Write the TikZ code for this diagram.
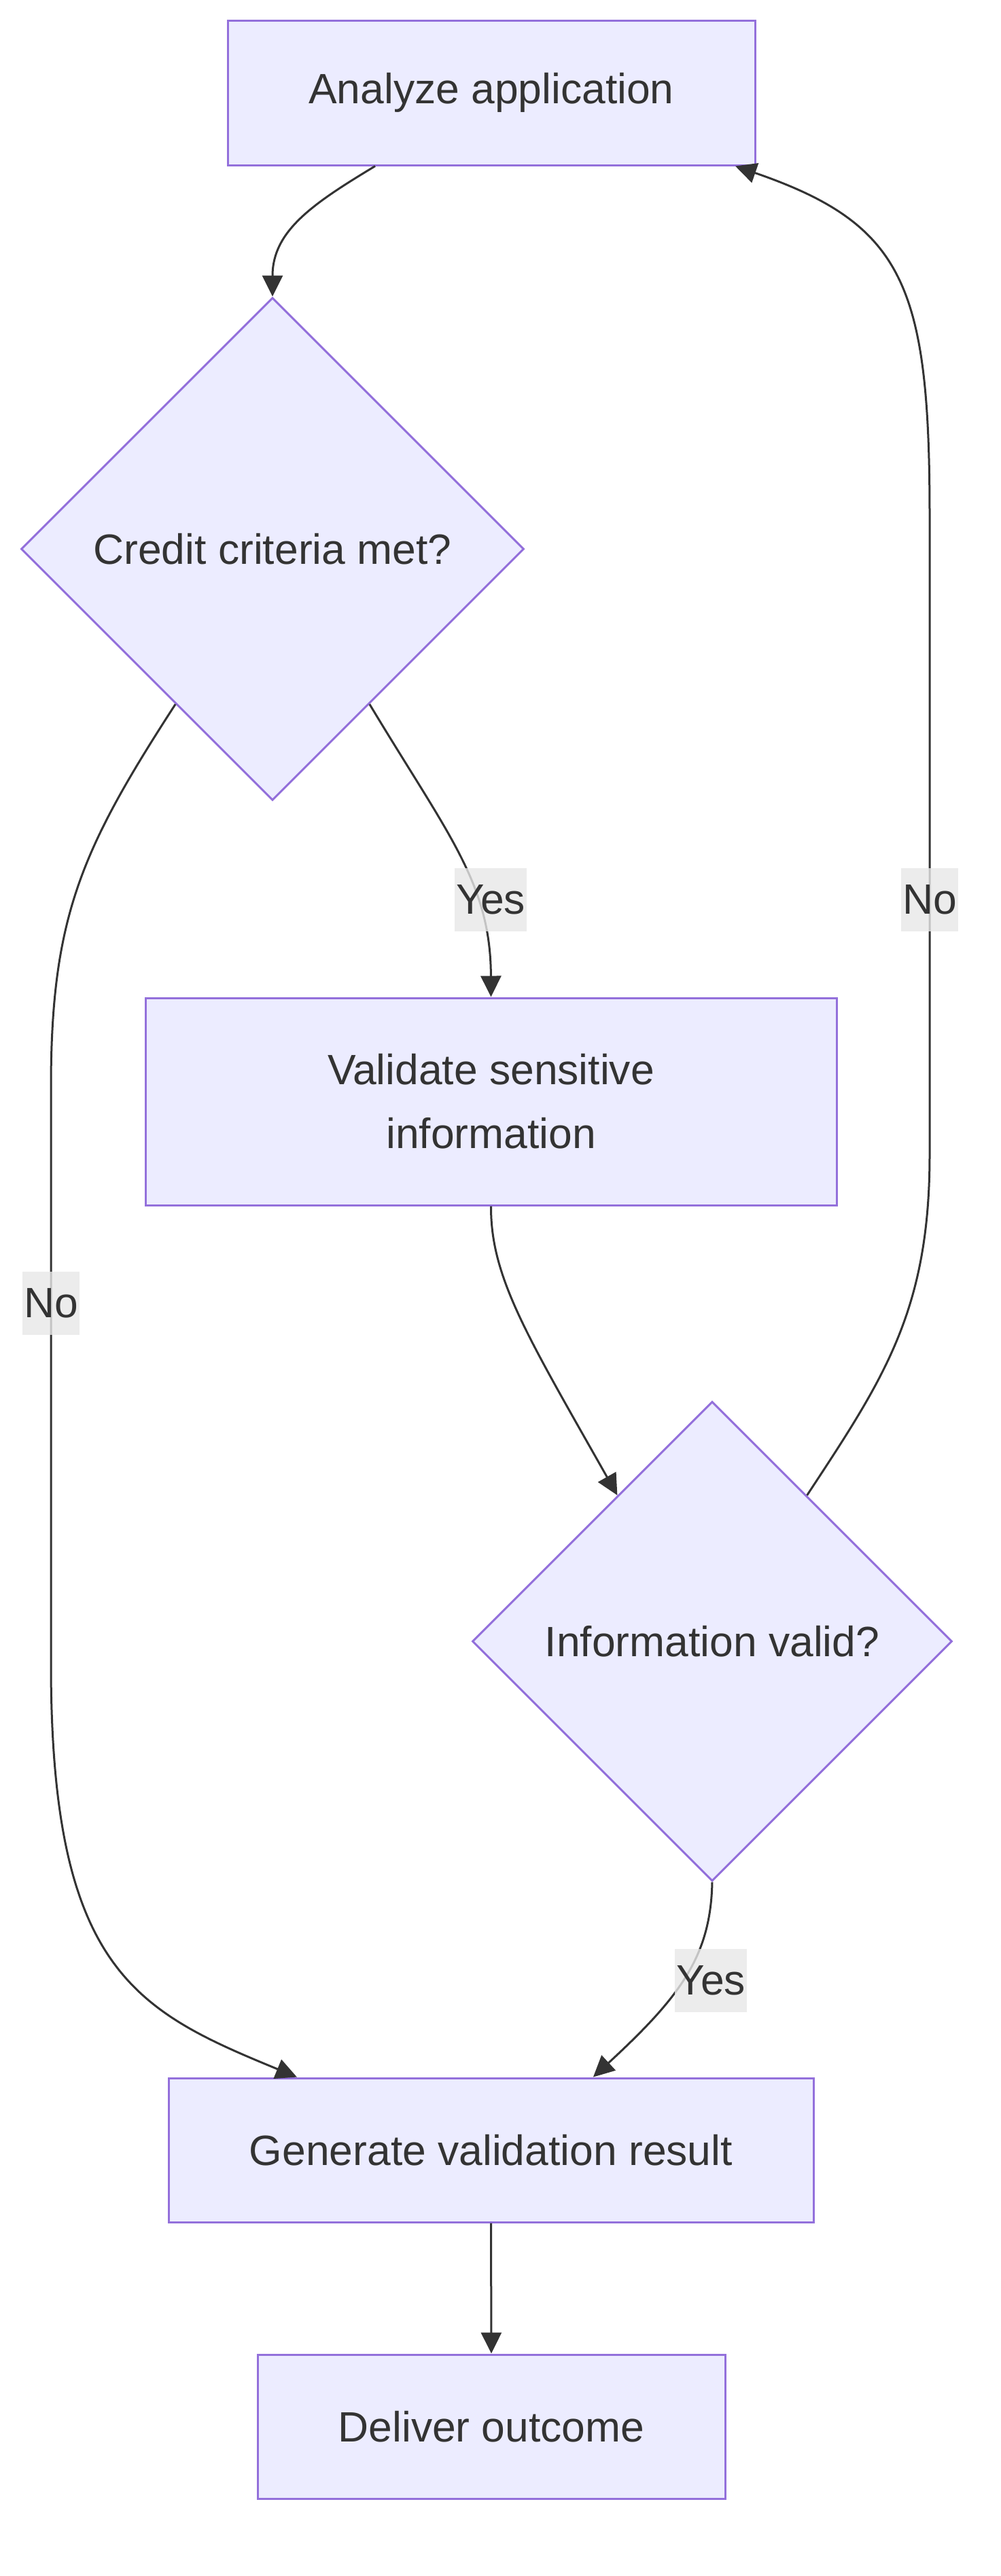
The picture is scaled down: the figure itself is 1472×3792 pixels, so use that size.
\documentclass[tikz,border=0pt]{standalone}
\usepackage{fontspec}
\setmainfont{Liberation Sans}
\usetikzlibrary{shapes.geometric,arrows.meta}
\definecolor{boxfill}{HTML}{ECECFF}
\definecolor{boxline}{HTML}{9370DB}
\definecolor{ink}{HTML}{333333}
\definecolor{lblbg}{HTML}{E8E8E8}
\tikzset{
  box/.style={draw=boxline, fill=boxfill, line width=0.75pt, text=ink,
    font=\fontsize{15.6}{23.5}\selectfont, align=center, inner sep=0pt},
  proc/.style={box, rectangle},
  decision/.style={box, diamond, aspect=1},
  edge/.style={draw=ink, line width=0.75pt, -{Triangle[length=7.75pt,width=7.5pt]}},
  lbl/.style={fill=lblbg, fill opacity=0.8, text opacity=1, text=ink,
    font=\fontsize{15.6}{18}\selectfont, inner xsep=0.5pt, inner ysep=0pt,
    minimum height=23.25pt}
}
\begin{document}
\begin{tikzpicture}[x=0.25pt,y=-0.25pt]
\path[use as bounding box, fill=white] (0,0) rectangle (1472,3792);

\node[proc, minimum width=194pt, minimum height=53.25pt] (nA) at (723,136.5) {Analyze application};
\node[decision, minimum width=185pt, minimum height=185pt] (nB) at (401,808) {Credit criteria met?};
\node[proc, minimum width=254.25pt, minimum height=76.25pt] (nC) at (722.5,1621.5) {Validate sensitive\\information};
\node[decision, minimum width=176.5pt, minimum height=176.5pt] (nD) at (1048,2416) {Information valid?};
\node[proc, minimum width=237.25pt, minimum height=53pt] (nE) at (722.5,3165) {Generate validation result};
\node[proc, minimum width=172pt, minimum height=53pt] (nF) at (723,3572) {Deliver outcome};

\draw[edge] ([xshift=-42.75pt]nA.south) .. controls (460,300) and (401,340) .. (nB.north);
\draw[edge] (nB.-58) .. controls (660,1230) and (722,1300) .. (nC.north);
\draw[edge] (nB.-122) .. controls (120,1250) and (75,1350) .. (75,1600) -- (75,2450) .. controls (75,2900) and (200,2960) .. ([xshift=-71.4pt]nE.north);
\draw[edge] (nC.south) .. controls (722,1880) and (775,1965) .. (nD.123);
\draw[edge] (nD.57) .. controls (1300,2030) and (1368,1930) .. (1368,1700) -- (1368,760) .. controls (1368,420) and (1330,330) .. ([xshift=89.75pt]nA.south);
\draw[edge] (nD.south) .. controls (1046,2880) and (1000,2940) .. ([xshift=37.6pt]nE.north);
\draw[edge] (nE.south) -- (nF.north);

\node[lbl] (l1) at (722,1324) {Yes};
\node[lbl] (l2) at (1368,1324) {No};
\node[lbl] (l3) at (75,1918) {No};
\node[lbl] (l4) at (1046,2915) {Yes};
\end{tikzpicture}
\end{document}
